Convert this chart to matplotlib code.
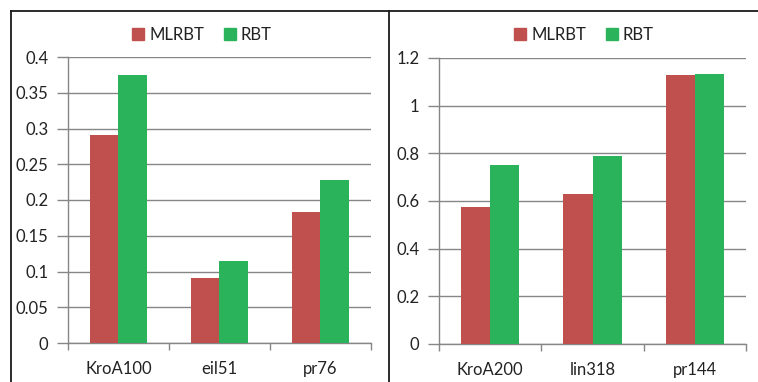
import matplotlib
matplotlib.use("Agg")
import matplotlib.pyplot as plt
from matplotlib.lines import Line2D
from matplotlib.patches import Patch
import numpy as np

plt.rcParams['font.family'] = ['Lato', 'DejaVu Sans']

series = ["MLRBT", "RBT"]
colors = ["#C0504D", "#2BB35C"]

cats_left = ["KroA100", "eil51", "pr76"]
mlrbt_left = [0.291, 0.091, 0.183]
rbt_left = [0.375, 0.115, 0.228]
yticks_left = [0, 0.05, 0.1, 0.15, 0.2, 0.25, 0.3, 0.35, 0.4]
yticklabels_left = ["0", "0.05", "0.1", "0.15", "0.2", "0.25", "0.3", "0.35", "0.4"]

cats_right = ["KroA200", "lin318", "pr144"]
mlrbt_right = [0.573, 0.629, 1.127]
rbt_right = [0.751, 0.789, 1.134]
yticks_right = [0, 0.2, 0.4, 0.6, 0.8, 1.0, 1.2]
yticklabels_right = ["0", "0.2", "0.4", "0.6", "0.8", "1", "1.2"]

W, H = 758, 382
fig = plt.figure(figsize=(W / 100, H / 100), dpi=100)
fig.patch.set_facecolor("white")

grid_c = "#868686"
txt_c = "#222222"
FS = 12


def px(x0, y0, x1, y1):
    return [x0 / W, 1 - y1 / H, (x1 - x0) / W, (y1 - y0) / H]


def panel(rect, cats, a, b, yt, ytl, legx):
    ax = fig.add_axes(rect)
    n = len(cats)
    x = np.arange(n)
    bw = 1 / 3.5
    ax.bar(x - bw / 2, a, width=bw, color=colors[0], zorder=3)
    ax.bar(x + bw / 2, b, width=bw, color=colors[1], zorder=3)
    ax.set_xlim(-0.5, n - 0.5)
    ax.set_ylim(yt[0], yt[-1])
    ax.set_yticks(yt)
    ax.set_yticklabels(ytl)
    ax.set_xticks(x)
    ax.set_xticklabels(cats)
    ax.set_xticks(np.arange(n + 1) - 0.5, minor=True)
    ax.tick_params(axis="x", which="major", length=0, pad=13, labelsize=FS, labelcolor=txt_c)
    ax.tick_params(axis="x", which="minor", length=5, color=grid_c, width=1)
    ax.tick_params(axis="y", length=8, color=grid_c, width=1, pad=6, labelsize=FS, labelcolor=txt_c)
    ax.grid(axis="y", color=grid_c, linewidth=1, zorder=0)
    for s in ["top", "right"]:
        ax.spines[s].set_visible(False)
    for s in ["left", "bottom"]:
        ax.spines[s].set_color(grid_c)
        ax.spines[s].set_linewidth(1)
    handles = [Patch(color=colors[i], label=series[i]) for i in range(2)]
    fig.legend(handles=handles, loc="center", bbox_to_anchor=(legx / W, 1 - 35 / H),
               ncol=2, frameon=False, fontsize=FS, handlelength=0.7, handleheight=0.7,
               handletextpad=0.3, columnspacing=1.2, labelcolor=txt_c)
    return ax


panel(px(68, 57, 371, 343), cats_left, mlrbt_left, rbt_left, yticks_left, yticklabels_left, 202)
panel(px(439, 58, 746, 344), cats_right, mlrbt_right, rbt_right, yticks_right, yticklabels_right, 584)

# frame lines
lc = "#1a1a1a"
fig.add_artist(Line2D([11 / W, 1], [1 - 11 / H, 1 - 11 / H], color=lc, linewidth=1.3))
fig.add_artist(Line2D([11 / W, 11 / W], [0, 1 - 11 / H], color=lc, linewidth=1.3))
fig.add_artist(Line2D([389 / W, 389 / W], [0, 1 - 11 / H], color=lc, linewidth=1.3))

fig.savefig("out.png", dpi=100)
